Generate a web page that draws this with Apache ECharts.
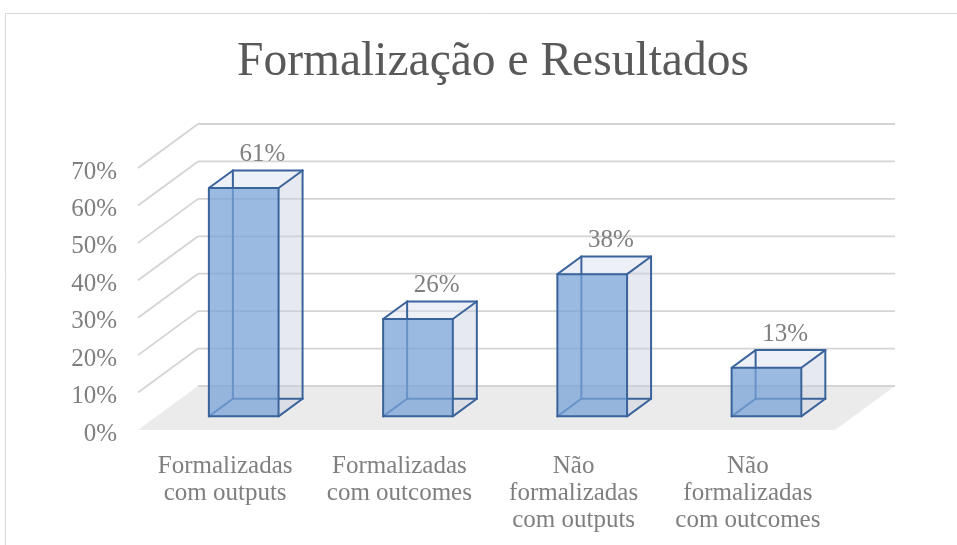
<!DOCTYPE html>
<html>
<head>
<meta charset="utf-8">
<script src="https://cdn.jsdelivr.net/npm/echarts@6/dist/echarts.min.js"></script>
<style>html,body{margin:0;padding:0;background:#fff}#c{width:957px;height:545px}</style>
</head>
<body>
<div id="c"></div>
<script>
const categories = ['Formalizadas\ncom outputs', 'Formalizadas\ncom outcomes', 'Não\nformalizadas\ncom outputs', 'Não\nformalizadas\ncom outcomes'];
const values = [61, 26, 38, 13];
const yTicks = [0, 10, 20, 30, 40, 50, 60, 70];

const DX = 60, DY = -44;      // depth vector of the 3D floor (pixels)
const D0 = 0.31, D1 = 0.71;   // bar front/back depth fractions
const FONT = 'Liberation Serif';
const GREY = '#7f7f7f';

function P(x, y, d) { return [x + d * DX, y + d * DY]; }

const chart = echarts.init(document.getElementById('c'));
chart.setOption({
  animation: false,
  backgroundColor: '#fff',
  title: {
    text: 'Formalização e Resultados',
    left: 488, top: 34, textAlign: 'center',
    textStyle: { fontFamily: FONT, fontSize: 47.5, fontWeight: 'normal', color: '#595959' }
  },
  graphic: [{
    type: 'rect', silent: true, z: -10,
    shape: { x: 5.5, y: 13.5, width: 1000, height: 600 },
    style: { fill: 'none', stroke: '#d9d9d9', lineWidth: 1 }
  }],
  grid: { left: 138, right: 122, top: 168, bottom: 115, containLabel: false },
  xAxis: {
    type: 'category', data: categories,
    axisLine: { show: false }, axisTick: { show: false },
    axisLabel: { interval: 0, margin: 23, fontFamily: FONT, fontSize: 25, lineHeight: 27, color: GREY, align: 'center' }
  },
  yAxis: {
    type: 'value', min: 0, max: 70, interval: 10,
    axisLine: { show: false }, axisTick: { show: false }, splitLine: { show: false },
    axisLabel: {
      formatter: '{a|{value}%}', margin: 21, color: GREY,
      rich: { a: { fontFamily: FONT, fontSize: 25, color: GREY, padding: [8, 0, 0, 0] } }
    }
  },
  series: [
    {
      type: 'custom', z: 1, silent: true,
      data: yTicks.map(v => [0, v]),
      encode: { x: 0, y: 1 },
      renderItem: function (params, api) {
        const cs = params.coordSys;
        const v = api.value(1);
        const y = api.coord([0, v])[1];
        const x0 = cs.x, x1 = cs.x + cs.width;
        const children = [];
        if (v === 0) {
          children.push({
            type: 'polygon',
            shape: { points: [[x0, y], [x1, y], P(x1, y, 1), P(x0, y, 1)] },
            style: { fill: '#ebebeb', stroke: null }
          });
        } else {
          children.push({
            type: 'line',
            shape: { x1: x0, y1: y, x2: x0 + DX, y2: y + DY },
            style: { stroke: '#d4d4d4', lineWidth: 1.8 }
          });
        }
        children.push({
          type: 'line',
          shape: { x1: x0 + DX, y1: y + DY, x2: x1 + DX, y2: y + DY },
          style: { stroke: '#d4d4d4', lineWidth: 1.8 }
        });
        return { type: 'group', children: children };
      }
    },
    {
      type: 'custom', z: 2, silent: true,
      data: values.map((v, i) => [i, v]),
      encode: { x: 0, y: 1 },
      renderItem: function (params, api) {
        const i = api.value(0), v = api.value(1);
        const base = api.coord([i, 0]);
        const top = api.coord([i, v]);
        const half = api.size([1, 0])[0] * 0.4 / 2;
        const xl = base[0] - half, xr = base[0] + half, yb = base[1], yt = top[1];
        const FLB = P(xl, yb, D0), FRB = P(xr, yb, D0), FRT = P(xr, yt, D0), FLT = P(xl, yt, D0);
        const BLB = P(xl, yb, D1), BRB = P(xr, yb, D1), BRT = P(xr, yt, D1), BLT = P(xl, yt, D1);
        const edge = '#3a639c';
        const ls = { stroke: edge, lineWidth: 2, lineJoin: 'round', lineCap: 'round', fill: null };
        const line = (a, b, st) => ({ type: 'polyline', shape: { points: [a, b] }, style: st || ls });
        const lbl = P(base[0], yt, D1);
        return {
          type: 'group',
          children: [
            { type: 'polygon', shape: { points: [FRB, BRB, BRT, FRT] }, style: { fill: 'rgba(200,208,222,0.45)' } },
            { type: 'polygon', shape: { points: [FLT, FRT, BRT, BLT] }, style: { fill: 'rgba(215,222,235,0.45)' } },
            line(BLB, BLT), line(BLB, BRB), line(FLB, BLB),
            { type: 'polygon', shape: { points: [FLB, FRB, FRT, FLT] }, style: { fill: 'rgba(120,163,216,0.75)' } },
            { type: 'polygon', shape: { points: [FLB, FRB, FRT, FLT] }, style: ls },
            line(FLT, BLT), line(BLT, BRT), line(BRT, FRT), line(BRT, BRB), line(FRB, BRB),
            {
              type: 'text',
              style: {
                text: v + '%', x: base[0] + 0.62 * DX, y: lbl[1] - 16,
                align: 'center', verticalAlign: 'middle',
                font: '25px "' + FONT + '"', fill: GREY
              }
            }
          ]
        };
      }
    }
  ]
});
</script>
</body>
</html>
